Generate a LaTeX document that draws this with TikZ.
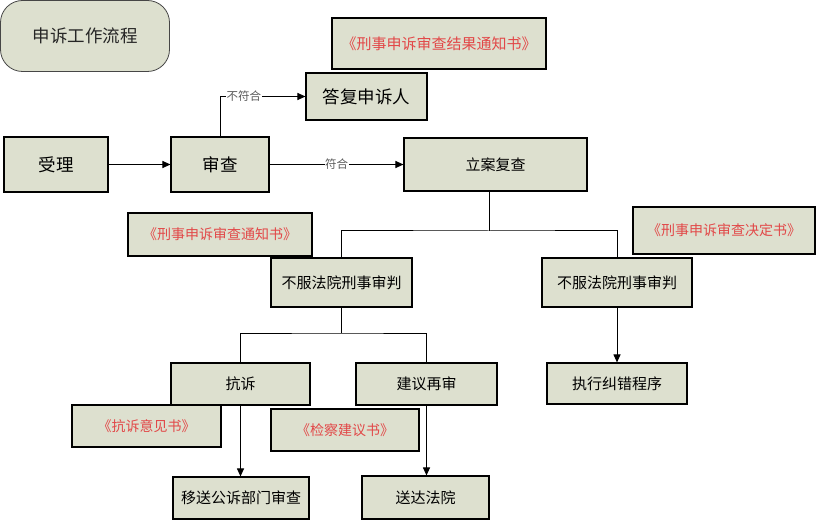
\documentclass[tikz,border=0pt]{standalone}
\usepackage{fontspec}
\usepackage{tikz}
\usetikzlibrary{arrows.meta, shapes}
\newfontfamily\cjk{Noto Sans CJK SC}
\definecolor{verdoso}{RGB}{221, 224, 207}
\definecolor{rojizo}{RGB}{226, 72, 72}
\definecolor{grisoscuro}{RGB}{70, 70, 70}
\tikzset{
    paso/.style={draw, rectangle, fill=verdoso, line width=1.1pt, inner sep=0pt, font=\cjk\fontsize{15}{18}\selectfont},
    pasoG/.style={paso, font=\cjk\fontsize{17.5}{20}\selectfont},
    doc/.style={paso, text=rojizo, font=\cjk\fontsize{14}{17}\selectfont},
    titulo/.style={draw=grisoscuro, rectangle, rounded corners=22pt, fill=verdoso, line width=0.8pt, inner sep=0pt, text=black!85, font=\cjk\fontsize{17.5}{20}\selectfont},
    conn/.style={-, black, line width=1pt},
    flecha/.style={conn, -{Triangle[length=8pt, width=7pt]}},
    etiq/.style={fill=white, inner sep=0.5pt, text=black!65, font=\cjk\fontsize{11.5}{13}\selectfont},
}
\begin{document}
\begin{tikzpicture}[x=1pt, y=-1pt]
    \useasboundingbox (0,0) rectangle (816,521);

    \node [titulo, minimum width=169pt, minimum height=71pt] (titulo) at (85,36) {申诉工作流程};

    \node [doc, minimum width=214pt, minimum height=51pt, font=\cjk\fontsize{15}{18}\selectfont] (resultadoDoc) at (439,43.5) {《刑事申诉审查结果通知书》};
    \node [pasoG, minimum width=121pt, minimum height=47pt] (respuesta) at (366.5,96.5) {答复申诉人};

    \node [pasoG, minimum width=104pt, minimum height=55pt] (recibo) at (56,164.5) {受理};
    \node [pasoG, minimum width=98pt, minimum height=55pt] (examen) at (220,164.5) {审查};
    \node [paso, minimum width=183pt, minimum height=53pt] (revision) at (495.5,164.5) {立案复查};

    \node [doc, minimum width=184pt, minimum height=43pt] (avisoDoc) at (220,234.5) {《刑事申诉审查通知书》};
    \node [doc, minimum width=182pt, minimum height=47pt] (decisionDoc) at (724,230.5) {《刑事申诉审查决定书》};

    \node [paso, minimum width=141pt, minimum height=49pt] (izq) at (341.5,282.5) {不服法院刑事审判};
    \node [paso, minimum width=150pt, minimum height=49pt] (der) at (617,282.5) {不服法院刑事审判};

    \node [paso, minimum width=139pt, minimum height=42pt] (protesta) at (240.5,384) {抗诉};
    \node [paso, minimum width=141pt, minimum height=42pt] (rejuicio) at (426.5,384) {建议再审};
    \node [paso, minimum width=140pt, minimum height=41pt] (correccion) at (617,383.5) {执行纠错程序};

    \node [doc, minimum width=149pt, minimum height=42pt] (protestaDoc) at (146.5,426) {《抗诉意见书》};
    \node [doc, minimum width=148pt, minimum height=42pt] (sugerenciaDoc) at (345,430) {《检察建议书》};

    \node [paso, minimum width=136pt, minimum height=42pt] (traslado) at (241,498) {移送公诉部门审查};
    \node [paso, minimum width=127pt, minimum height=43pt] (entrega) at (425.5,497.5) {送达法院};

    \coordinate (bifurca) at (489,231);
    \coordinate (bifurcaB) at (341.5,333);

    \draw[flecha] (recibo) -- (examen);
    \draw[flecha] (examen.north) |- (respuesta.west) node [etiq, pos=0.64] {不符合};
    \draw[flecha] (examen) -- (revision) node [etiq, pos=0.5] {符合};

    \draw[conn] (revision.south -| bifurca) -- (bifurca);
    \draw[conn] (izq.north) |- (bifurca) -| (der.north);

    \draw[conn] (izq.south) -- (bifurcaB);
    \draw[conn] (protesta.north) |- (bifurcaB) -| (rejuicio.north);

    \draw[flecha] (protesta.south) -- (protesta.south |- traslado.north);
    \draw[flecha] (rejuicio.south) -- (rejuicio.south |- entrega.north);
    \draw[flecha] (der) -- (correccion);
\end{tikzpicture}
\end{document}
